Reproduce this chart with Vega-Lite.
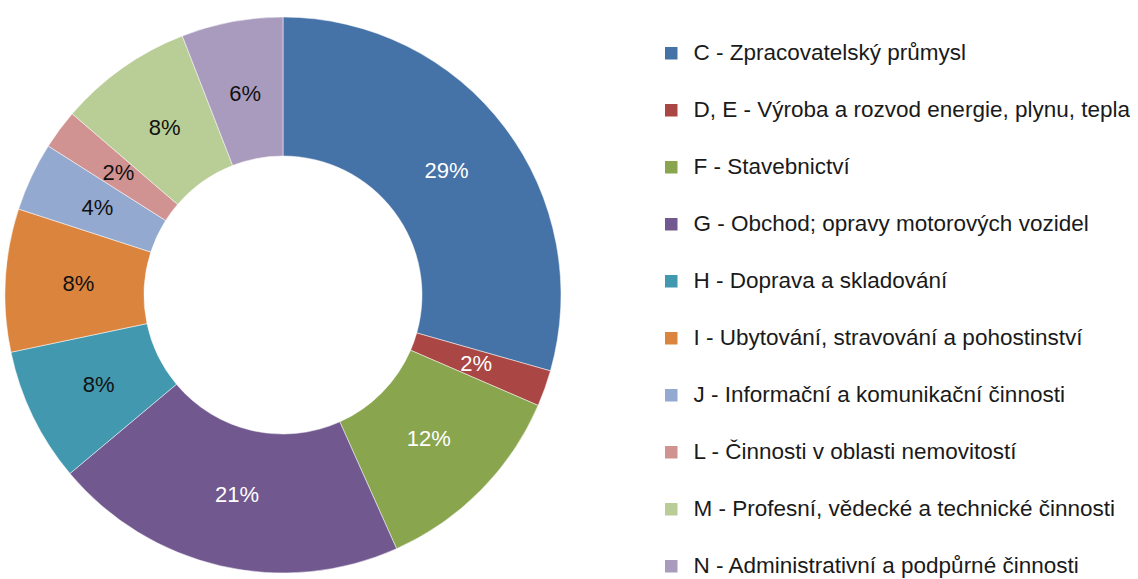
{
  "$schema": "https://vega.github.io/schema/vega-lite/v6.json",
  "autosize": {"type": "pad"},
  "padding": 0,
  "width": 566,
  "height": 590,
  "background": "white",
  "config": {"view": {"stroke": null}, "font": "Liberation Sans"},
  "data": {
    "values": [
      {"order": 1, "sector": "C - Zpracovatelský průmysl", "share": 0.294, "dark": true},
      {"order": 2, "sector": "D, E - Výroba a rozvod energie, plynu, tepla", "share": 0.021, "dark": true},
      {"order": 3, "sector": "F - Stavebnictví", "share": 0.118, "dark": true},
      {"order": 4, "sector": "G - Obchod; opravy motorových vozidel", "share": 0.206, "dark": true},
      {"order": 5, "sector": "H - Doprava a skladování", "share": 0.078, "dark": false},
      {"order": 6, "sector": "I - Ubytování, stravování a pohostinství", "share": 0.083, "dark": false},
      {"order": 7, "sector": "J - Informační a komunikační činnosti", "share": 0.040, "dark": false},
      {"order": 8, "sector": "L - Činnosti v oblasti nemovitostí", "share": 0.023, "dark": false},
      {"order": 9, "sector": "M - Profesní, vědecké a technické činnosti", "share": 0.078, "dark": false},
      {"order": 10, "sector": "N - Administrativní a podpůrné činnosti", "share": 0.059, "dark": false}
    ]
  },
  "encoding": {
    "theta": {"field": "share", "type": "quantitative", "stack": true},
    "order": {"field": "order", "type": "quantitative", "sort": "ascending"}
  },
  "layer": [
    {
      "mark": {"type": "arc", "outerRadius": 278, "innerRadius": 139, "stroke": "white", "strokeWidth": 0.5},
      "encoding": {
        "color": {
          "field": "sector",
          "type": "nominal",
          "sort": {"field": "order"},
          "scale": {
            "range": ["#4572A7", "#AA4643", "#89A54E", "#71588F", "#4198AF", "#DB843D", "#93A9CF", "#D19392", "#B9CD96", "#A99BBD"]
          },
          "legend": {
            "title": null,
            "orient": "none",
            "legendX": 660,
            "legendY": 42,
            "symbolType": "square",
            "symbolSize": 156,
            "symbolStrokeWidth": 0,
            "labelFont": "Liberation Sans",
            "labelFontSize": 22.5,
            "labelColor": "#1a1a1a",
            "labelLimit": 600,
            "labelOffset": 11,
            "rowPadding": 34
          }
        }
      }
    },
    {
      "mark": {"type": "text", "radius": 205, "font": "Liberation Sans", "fontSize": 22},
      "encoding": {
        "text": {"field": "share", "type": "quantitative", "format": ".0%"},
        "color": {
          "condition": {"test": "datum.dark", "value": "white"},
          "value": "#111111"
        }
      }
    }
  ]
}
